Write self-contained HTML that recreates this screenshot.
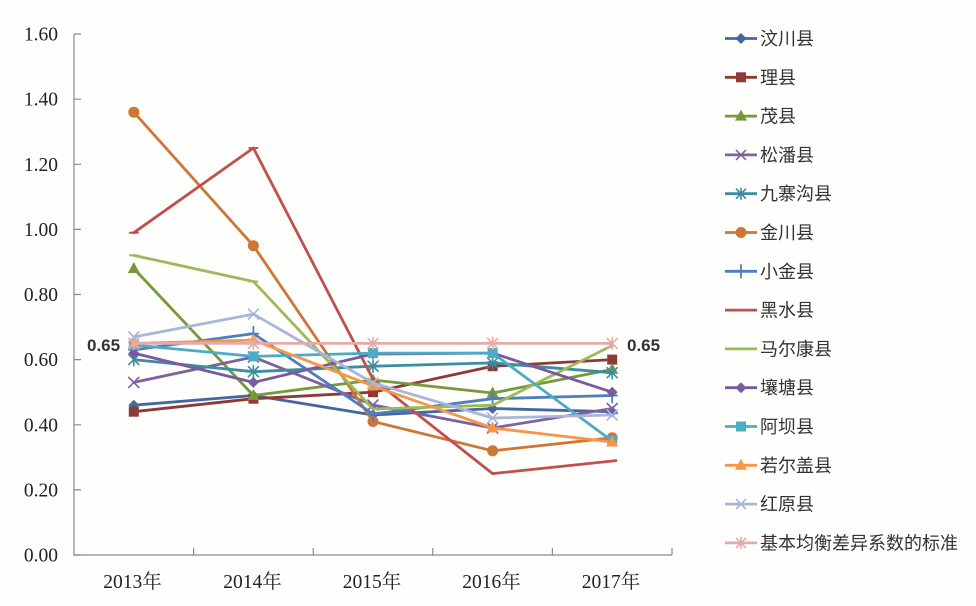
<!DOCTYPE html>
<html><head><meta charset="utf-8">
<style>
html,body{margin:0;padding:0;background:#fefefd;}
svg{display:block;}
.ax{font-family:"Liberation Serif","Noto Serif CJK SC",serif;font-size:19.5px;fill:#222;}
.lg{font-family:"Liberation Sans","Noto Sans CJK SC",sans-serif;font-size:18px;fill:#333;}
.lab{font-family:"Liberation Sans",sans-serif;font-size:17px;font-weight:bold;fill:#333;}
</style></head>
<body>
<svg width="976" height="606" viewBox="0 0 976 606" xmlns="http://www.w3.org/2000/svg">
<defs>
<polygon id="dia" points="0,-5.5 5.5,0 0,5.5 -5.5,0" fill="currentColor"/>
<rect id="sq" x="-5" y="-5" width="10" height="10" fill="currentColor"/>
<polygon id="tri" points="0,-6.5 6,4.5 -6,4.5" fill="currentColor"/>
<path id="xx" d="M-5,-5L5,5M-5,5L5,-5" stroke="currentColor" stroke-width="1.6" fill="none"/>
<path id="st" d="M-5,-5L5,5M-5,5L5,-5M0,-6L0,6" stroke="currentColor" stroke-width="1.6" fill="none"/>
<circle id="ci" r="5.5" fill="currentColor"/>
<path id="pl" d="M-5,0L5,0M0,-7L0,7" stroke="currentColor" stroke-width="1.8" fill="none"/>
<path id="da" d="M-4,0L4,0" stroke="currentColor" stroke-width="2" fill="none"/>
</defs>

<!-- axes -->
<g stroke="#8a8a8a" stroke-width="1.2" fill="none">
<path d="M74,34V555H672"/>
<path d="M74,34.0H81M74,99.2H81M74,164.3H81M74,229.4H81M74,294.5H81M74,359.6H81M74,424.8H81M74,489.9H81M74,555H81"/>
<path d="M193.6,555V548M313.2,555V548M432.8,555V548M552.4,555V548M672,555V548"/>
</g>
<g class="ax" text-anchor="end">
<text x="58" y="40.5">1.60</text>
<text x="58" y="105.7">1.40</text>
<text x="58" y="170.8">1.20</text>
<text x="58" y="235.9">1.00</text>
<text x="58" y="301">0.80</text>
<text x="58" y="366.1">0.60</text>
<text x="58" y="431.3">0.40</text>
<text x="58" y="496.4">0.20</text>
<text x="58" y="561.5">0.00</text>
</g>
<g class="ax" text-anchor="middle">
<text x="132.5" y="588">2013年</text>
<text x="252.5" y="588">2014年</text>
<text x="372" y="588">2015年</text>
<text x="491.5" y="588">2016年</text>
<text x="611" y="588">2017年</text>
</g>

<!-- series -->
<g fill="none" stroke-width="2.8" stroke-linejoin="round" stroke-linecap="round">
<g color="#45679f"><polyline stroke="#45679f" points="133.8,405.2 253.4,395.5 373,415 492.6,408.5 612.2,411.7"/>
<use href="#dia" x="133.8" y="405.2"/><use href="#dia" x="253.4" y="395.5"/><use href="#dia" x="373" y="415"/><use href="#dia" x="492.6" y="408.5"/><use href="#dia" x="612.2" y="411.7"/></g>
<g color="#8e3a37"><polyline stroke="#8e3a37" points="133.8,411.7 253.4,398.7 373,392.2 492.6,366.2 612.2,359.6"/>
<use href="#sq" x="133.8" y="411.7"/><use href="#sq" x="253.4" y="398.7"/><use href="#sq" x="373" y="392.2"/><use href="#sq" x="492.6" y="366.2"/><use href="#sq" x="612.2" y="359.6"/></g>
<g color="#76993c"><polyline stroke="#76993c" points="133.8,268.5 253.4,395.5 373,380 492.6,393 612.2,369.4"/>
<use href="#tri" x="133.8" y="268.5"/><use href="#tri" x="253.4" y="395.5"/><use href="#tri" x="373" y="380"/><use href="#tri" x="492.6" y="393"/><use href="#tri" x="612.2" y="369.4"/></g>
<g color="#7d62a0"><polyline stroke="#7d62a0" points="133.8,382.4 253.4,357 373,405 492.6,428 612.2,408.5"/>
<use href="#xx" x="133.8" y="382.4"/><use href="#xx" x="253.4" y="357"/><use href="#xx" x="373" y="405"/><use href="#xx" x="492.6" y="428"/><use href="#xx" x="612.2" y="408.5"/></g>
<g color="#3b8da0"><polyline stroke="#3b8da0" points="133.8,359.6 253.4,371.7 373,366.2 492.6,362.9 612.2,372.7"/>
<use href="#st" x="133.8" y="359.6"/><use href="#st" x="253.4" y="371.7"/><use href="#st" x="373" y="366.2"/><use href="#st" x="492.6" y="362.9"/><use href="#st" x="612.2" y="372.7"/></g>
<g color="#ce7635"><polyline stroke="#ce7635" points="133.8,112.2 253.4,245.7 373,421.5 492.6,450.8 612.2,437.8"/>
<use href="#ci" x="133.8" y="112.2"/><use href="#ci" x="253.4" y="245.7"/><use href="#ci" x="373" y="421.5"/><use href="#ci" x="492.6" y="450.8"/><use href="#ci" x="612.2" y="437.8"/></g>
<g color="#4e7ec0"><polyline stroke="#4e7ec0" points="133.8,349.9 253.4,333.6 373,414 492.6,398.7 612.2,395.5"/>
<use href="#pl" x="133.8" y="349.9"/><use href="#pl" x="253.4" y="333.6"/><use href="#pl" x="373" y="414"/><use href="#pl" x="492.6" y="398.7"/><use href="#pl" x="612.2" y="395.5"/></g>
<g color="#c0504d"><polyline stroke="#c0504d" points="133.8,232.7 253.4,148 373,379.2 492.6,473.6 616,460.6"/>
<use href="#da" x="133.8" y="232.7"/><use href="#da" x="253.4" y="148"/></g>
<g color="#9bbb59"><polyline stroke="#9bbb59" points="133.8,255.4 253.4,281.5 373,409 492.6,405.2 612.2,345.5"/>
<use href="#da" x="133.8" y="255.4"/><use href="#da" x="253.4" y="281.5"/></g>
<g color="#7b599f"><polyline stroke="#7b599f" points="133.8,353.1 253.4,382.4 373,354 492.6,353.1 612.2,392.2"/>
<use href="#dia" x="133.8" y="353.1"/><use href="#dia" x="253.4" y="382.4"/><use href="#dia" x="373" y="354"/><use href="#dia" x="492.6" y="353.1"/><use href="#dia" x="612.2" y="392.2"/></g>
<g color="#4bacc6"><polyline stroke="#4bacc6" points="133.8,345 253.4,356.4 373,353.1 492.6,353.1 612.2,441"/>
<use href="#sq" x="133.8" y="345"/><use href="#sq" x="253.4" y="356.4"/><use href="#sq" x="373" y="353.1"/><use href="#sq" x="492.6" y="353.1"/><use href="#sq" x="612.2" y="441"/></g>
<g color="#f79646"><polyline stroke="#f79646" points="133.8,343.4 253.4,340.1 373,386 492.6,428 612.2,442"/>
<use href="#tri" x="133.8" y="343.4"/><use href="#tri" x="253.4" y="340.1"/><use href="#tri" x="373" y="386"/><use href="#tri" x="492.6" y="428"/><use href="#tri" x="612.2" y="442"/></g>
<g color="#a9b6d8"><polyline stroke="#a9b6d8" points="133.8,337 253.4,314.1 373,383 492.6,418 612.2,415"/>
<use href="#xx" x="133.8" y="337"/><use href="#xx" x="253.4" y="314.1"/><use href="#xx" x="373" y="383"/><use href="#xx" x="492.6" y="418"/><use href="#xx" x="612.2" y="415"/></g>
<g color="#e3abaa"><polyline stroke="#e3abaa" points="133.8,343.4 253.4,343.4 373,343.4 492.6,343.4 612.2,343.4"/>
<use href="#st" x="133.8" y="343.4"/><use href="#st" x="253.4" y="343.4"/><use href="#st" x="373" y="343.4"/><use href="#st" x="492.6" y="343.4"/><use href="#st" x="612.2" y="343.4"/></g>
</g>

<text class="lab" x="87" y="351">0.65</text>
<text class="lab" x="627" y="351">0.65</text>

<!-- legend -->
<g stroke-width="2.8" fill="none">
<g color="#45679f"><path stroke="#45679f" d="M725,38.5H757"/><use href="#dia" x="741" y="38.5"/></g>
<g color="#8e3a37"><path stroke="#8e3a37" d="M725,77.3H757"/><use href="#sq" x="741" y="77.3"/></g>
<g color="#76993c"><path stroke="#76993c" d="M725,116.1H757"/><use href="#tri" x="741" y="116.1"/></g>
<g color="#7d62a0"><path stroke="#7d62a0" d="M725,154.9H757"/><use href="#xx" x="741" y="154.9"/></g>
<g color="#3b8da0"><path stroke="#3b8da0" d="M725,193.7H757"/><use href="#st" x="741" y="193.7"/></g>
<g color="#ce7635"><path stroke="#ce7635" d="M725,232.5H757"/><use href="#ci" x="741" y="232.5"/></g>
<g color="#4e7ec0"><path stroke="#4e7ec0" d="M725,271.3H757"/><use href="#pl" x="741" y="271.3"/></g>
<g color="#c0504d"><path stroke="#c0504d" d="M725,310.1H757"/></g>
<g color="#9bbb59"><path stroke="#9bbb59" d="M725,348.9H757"/></g>
<g color="#7b599f"><path stroke="#7b599f" d="M725,387.7H757"/><use href="#dia" x="741" y="387.7"/></g>
<g color="#4bacc6"><path stroke="#4bacc6" d="M725,426.5H757"/><use href="#sq" x="741" y="426.5"/></g>
<g color="#f79646"><path stroke="#f79646" d="M725,465.3H757"/><use href="#tri" x="741" y="465.3"/></g>
<g color="#a9b6d8"><path stroke="#a9b6d8" d="M725,504.1H757"/><use href="#xx" x="741" y="504.1"/></g>
<g color="#e3abaa"><path stroke="#e3abaa" d="M725,542.9H757"/><use href="#st" x="741" y="542.9"/></g>
</g>
<g class="lg">
<text x="760" y="45">汶川县</text>
<text x="760" y="83.8">理县</text>
<text x="760" y="122.6">茂县</text>
<text x="760" y="161.4">松潘县</text>
<text x="760" y="200.2">九寨沟县</text>
<text x="760" y="239">金川县</text>
<text x="760" y="277.8">小金县</text>
<text x="760" y="316.6">黑水县</text>
<text x="760" y="355.4">马尔康县</text>
<text x="760" y="394.2">壤塘县</text>
<text x="760" y="433">阿坝县</text>
<text x="760" y="471.8">若尔盖县</text>
<text x="760" y="510.6">红原县</text>
<text x="760" y="549.4">基本均衡差异系数的标准</text>
</g>
</svg>
</body></html>
